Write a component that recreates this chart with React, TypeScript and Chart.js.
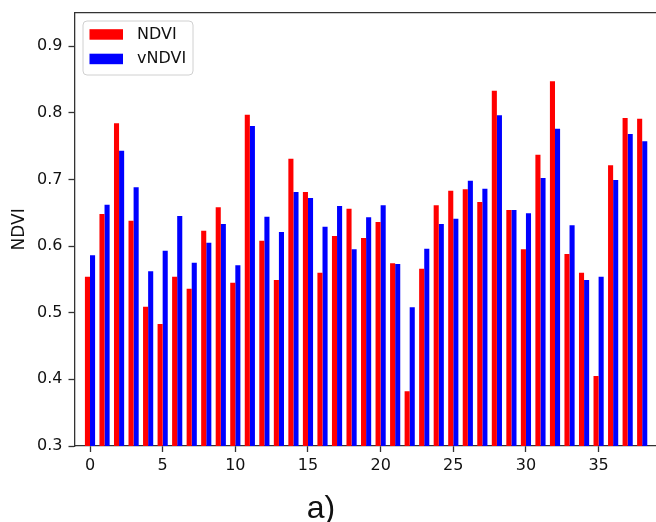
import React, { useEffect, useRef } from "react";
import { Chart, registerables } from "chart.js";

Chart.register(...registerables);

const categories = [
  0, 1, 2, 3, 4, 5, 6, 7, 8, 9, 10, 11, 12, 13, 14, 15, 16, 17, 18, 19,
  20, 21, 22, 23, 24, 25, 26, 27, 28, 29, 30, 31, 32, 33, 34, 35, 36, 37, 38,
];

const ndviValues = [
  0.554, 0.648, 0.784, 0.638, 0.509, 0.483, 0.554, 0.536, 0.623, 0.658,
  0.545, 0.797, 0.608, 0.549, 0.731, 0.681, 0.560, 0.615, 0.656, 0.612,
  0.636, 0.574, 0.382, 0.566, 0.661, 0.683, 0.685, 0.666, 0.833, 0.654,
  0.595, 0.737, 0.847, 0.588, 0.560, 0.405, 0.721, 0.792, 0.791,
];

const vndviValues = [
  0.586, 0.662, 0.743, 0.688, 0.562, 0.593, 0.645, 0.575, 0.605, 0.633,
  0.571, 0.780, 0.644, 0.621, 0.681, 0.672, 0.629, 0.660, 0.595, 0.643,
  0.661, 0.573, 0.508, 0.596, 0.633, 0.641, 0.698, 0.686, 0.796, 0.654,
  0.649, 0.702, 0.776, 0.631, 0.549, 0.554, 0.699, 0.768, 0.757,
];

const seriesLabels = ["NDVI", "vNDVI"];
const seriesColors = ["#ff0000", "#0000ff"];

const xTickValues = [0, 5, 10, 15, 20, 25, 30, 35];
const yTickValues = [0.3, 0.4, 0.5, 0.6, 0.7, 0.8, 0.9];

const yAxisTitle = "NDVI";
const panelLabel = "a)";

const FONT = "'DejaVu Sans', sans-serif";
const AXIS_COLOR = "#333333";

const framePlugin = {
  id: "frameAndLegend",
  afterDraw(chart: any) {
    const { ctx, chartArea } = chart;
    ctx.save();
    // top spine
    ctx.strokeStyle = AXIS_COLOR;
    ctx.lineWidth = 1.3;
    ctx.beginPath();
    ctx.moveTo(chartArea.left, chartArea.top);
    ctx.lineTo(chartArea.right, chartArea.top);
    ctx.stroke();

    // legend box
    const bx = chartArea.left + 8.5;
    const by = chartArea.top + 8.3;
    const bw = 110;
    const bh = 54;
    const r = 4;
    ctx.beginPath();
    ctx.moveTo(bx + r, by);
    ctx.lineTo(bx + bw - r, by);
    ctx.quadraticCurveTo(bx + bw, by, bx + bw, by + r);
    ctx.lineTo(bx + bw, by + bh - r);
    ctx.quadraticCurveTo(bx + bw, by + bh, bx + bw - r, by + bh);
    ctx.lineTo(bx + r, by + bh);
    ctx.quadraticCurveTo(bx, by + bh, bx, by + bh - r);
    ctx.lineTo(bx, by + r);
    ctx.quadraticCurveTo(bx, by, bx + r, by);
    ctx.closePath();
    ctx.fillStyle = "rgba(255,255,255,0.8)";
    ctx.fill();
    ctx.strokeStyle = "#d0d0d0";
    ctx.lineWidth = 1;
    ctx.stroke();

    ctx.font = `16px ${FONT}`;
    ctx.textBaseline = "middle";
    ctx.textAlign = "left";
    chart.data.datasets.forEach((ds: any, i: number) => {
      const sy = by + 8.2 + i * 24.5;
      ctx.fillStyle = ds.backgroundColor;
      ctx.fillRect(bx + 6.5, sy, 33.5, 10.5);
      ctx.fillStyle = "#111111";
      ctx.fillText(ds.label, bx + 54, sy + 5.5);
    });
    ctx.restore();
  },
};

export default function App() {
  const canvasRef = useRef<HTMLCanvasElement | null>(null);

  useEffect(() => {
    if (!canvasRef.current) return;
    const chart = new Chart(canvasRef.current, {
      type: "bar",
      data: {
        labels: categories,
        datasets: [
          {
            label: seriesLabels[0],
            data: ndviValues,
            backgroundColor: seriesColors[0],
            borderWidth: 0,
          },
          {
            label: seriesLabels[1],
            data: vndviValues,
            backgroundColor: seriesColors[1],
            borderWidth: 0,
          },
        ],
      },
      options: {
        animation: false,
        responsive: false,
        devicePixelRatio: 1,
        layout: { padding: { top: 12.7, left: 0, right: 0, bottom: 0 } },
        datasets: {
          bar: { categoryPercentage: 0.7, barPercentage: 1.0 },
        },
        plugins: {
          legend: { display: false },
          tooltip: { enabled: false },
        },
        scales: {
          x: {
            type: "linear",
            min: -1.067,
            max: 38.95,
            offset: false,
            grid: {
              display: true,
              offset: false,
              drawOnChartArea: false,
              drawTicks: true,
              tickLength: 6,
              tickColor: AXIS_COLOR,
              tickWidth: 1.3,
            },
            border: { display: true, color: AXIS_COLOR, width: 1.3 },
            ticks: {
              font: { family: FONT, size: 16 },
              color: "#111111",
              padding: 4,
              maxRotation: 0,
              autoSkip: false,
              callback: (v: any) => String(v),
            },
            afterBuildTicks: (s: any) => {
              s.ticks = xTickValues.map((v) => ({ value: v }));
            },
            afterFit: (s: any) => {
              s.height = 76;
            },
          },
          y: {
            type: "linear",
            min: 0.3,
            max: 0.95,
            grid: {
              display: true,
              drawOnChartArea: false,
              drawTicks: true,
              tickLength: 6,
              tickColor: AXIS_COLOR,
              tickWidth: 1.3,
            },
            border: { display: true, color: AXIS_COLOR, width: 1.3 },
            ticks: {
              font: { family: FONT, size: 16 },
              color: "#111111",
              padding: 6,
              callback: (v: any) => Number(v).toFixed(1),
            },
            title: {
              display: true,
              text: yAxisTitle,
              font: { family: FONT, size: 17 },
              color: "#111111",
              padding: { top: 9, bottom: 0 },
            },
            afterBuildTicks: (s: any) => {
              s.ticks = yTickValues.map((v) => ({ value: v }));
            },
            afterFit: (s: any) => {
              s.width = 74.5;
              s.paddingTop = 0;
              s.paddingBottom = 0;
            },
          },
        },
      },
      plugins: [framePlugin],
    } as any);
    return () => chart.destroy();
  }, []);

  return (
    <div
      style={{
        position: "fixed",
        left: 0,
        top: 0,
        width: 656,
        height: 522,
        background: "#ffffff",
        overflow: "hidden",
      }}
    >
      <canvas ref={canvasRef} width={656} height={522} style={{ display: "block" }} />
      <div
        style={{
          position: "absolute",
          left: 0,
          width: 642,
          top: 491,
          textAlign: "center",
          fontFamily: "'Liberation Sans', Arial, sans-serif",
          fontSize: 32,
          lineHeight: "32px",
          color: "#111111",
          whiteSpace: "nowrap",
        }}
      >
        {panelLabel}
      </div>
    </div>
  );
}
